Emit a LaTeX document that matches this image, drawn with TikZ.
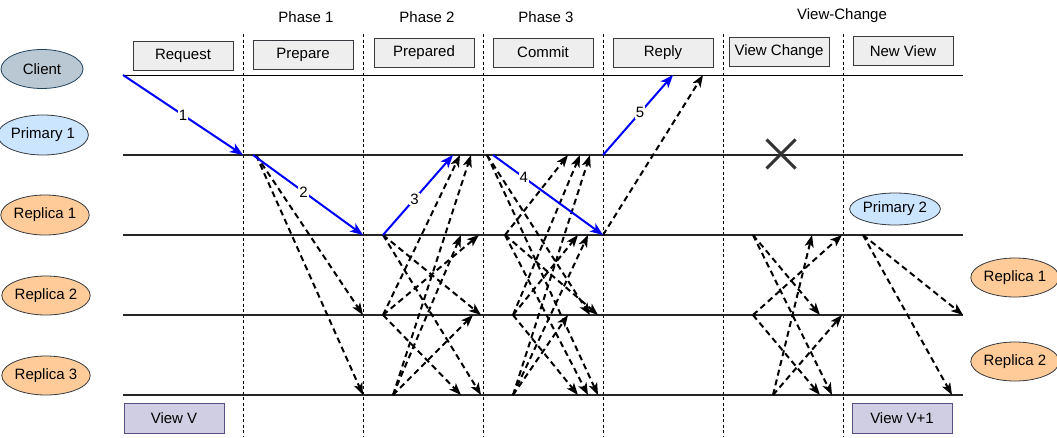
\documentclass[tikz,border=0pt]{standalone}
\usepackage{fontspec}
\setmainfont{Liberation Sans}
\usetikzlibrary{arrows.meta,shapes.geometric,shapes.misc}
\definecolor{boxfill}{HTML}{EEEEEE}
\definecolor{boxline}{HTML}{36393D}
\definecolor{clientfill}{HTML}{BAC8D3}
\definecolor{clientline}{HTML}{23445D}
\definecolor{primfill}{HTML}{CCE5FF}
\definecolor{repfill}{HTML}{FFCC99}
\definecolor{viewfill}{HTML}{D0CEE2}
\definecolor{viewline}{HTML}{56517E}
\definecolor{msgblue}{HTML}{0000FF}
\begin{document}
\begin{tikzpicture}[x=1pt,y=-1pt,
  font=\fontsize{15}{18}\selectfont,
  phasebox/.style={draw=boxline,fill=boxfill,line width=1pt,minimum width=100pt,minimum height=29pt,inner sep=0pt},
  viewbox/.style={draw=viewline,fill=viewfill,line width=1pt,minimum width=100pt,minimum height=30pt,inner sep=0pt},
  actor/.style={ellipse,draw=boxline,line width=0.8pt,minimum width=84pt,minimum height=39pt,inner sep=0pt},
  lifeline/.style={line width=2.2pt,draw=black!85},
  clientline/.style={line width=1pt,draw=black},
  divider/.style={line width=0.8pt,draw=black,dash pattern=on 3pt off 2.5pt},
  bluemsg/.style={line width=2pt,draw=msgblue,-{Stealth[length=13pt,width=10pt,inset=3.5pt]}},
  dashmsg/.style={line width=2pt,draw=black,dash pattern=on 6pt off 4pt,-{Stealth[length=12pt,width=9pt,inset=3pt]}},
  msglabel/.style={fill=white,inner sep=1pt,text=black}
]
\useasboundingbox (0,0) rectangle (1057,437);

% ---- vertical dividers
\foreach \n/\x in {d1/243,d2/363,d3/483,d4/603,d5/723,d6/843}{
  \coordinate (\n t) at (\x,34);
  \coordinate (\n b) at (\x,437);
  \draw[divider] (\n t) -- (\n b);
}

% ---- lifelines
\coordinate (Cl) at (123,75);  \coordinate (Cr) at (963,75);
\draw[clientline] (Cl) -- (Cr);
\foreach \n/\y in {P/155,R1/235,R2/315,R3/395}{
  \coordinate (\n l) at (123,\y);
  \coordinate (\n r) at (963,\y);
  \draw[lifeline] (\n l) -- (\n r);
}

% ---- phase titles
\node (ph1) at (306,17) {Phase 1};
\node (ph2) at (427,17) {Phase 2};
\node (ph3) at (546,17) {Phase 3};
\node (phvc) at (842,16) {View-Change};

% ---- phase boxes
\node[phasebox] (request)  at (183,55.5) {Request};
\node[phasebox] (prepare)  at (303,54.5) {Prepare};
\node[phasebox] (prepared) at (424,53)   {Prepared};
\node[phasebox] (commit)   at (543,52.5) {Commit};
\node[phasebox] (reply)    at (663,52.5) {Reply};
\node[phasebox] (vchange)  at (779,52)   {View Change};
\node[phasebox] (newview)  at (903,51)   {New View};

% ---- actors
\node[actor,fill=clientfill,draw=clientline,minimum width=82pt] (client) at (42,69) {Client};
\node[actor,fill=primfill,minimum height=40pt] (prim1) at (43,135) {Primary 1};
\node[actor,fill=repfill,minimum height=40pt] (rep1) at (45,215) {Replica 1};
\node[actor,fill=repfill] (rep2) at (46,295.5) {Replica 2};
\node[actor,fill=repfill] (rep3) at (46,375.5) {Replica 3};
\node[actor,fill=primfill,minimum height=32pt] (prim2) at (895,209) {Primary 2};
\node[actor,fill=repfill] (nrep1) at (1015,277.5) {Replica 1};
\node[actor,fill=repfill] (nrep2) at (1015,361.5) {Replica 2};

% ---- view boxes
\node[viewbox] (viewv)  at (174,418) {View V};
\node[viewbox] (viewv1) at (902,418) {View V+1};

% ---- failed primary
\node[cross out,draw=black!80,line width=3pt,minimum width=26pt,minimum height=26pt,inner sep=0pt] (fail) at (781,154) {};

% ---- message end points
\foreach \n/\x/\y in {
  b1s/123/75, b1e/243/155, b2s/253/155, b2e/363/235, b3s/383/235, b3e/453/155,
  b4s/493/155, b4e/603/235, b5s/603/155, b5e/673/75,
  s1P/256/155, e1R2/363/315, e1R3/363/395,
  s2R1/383/235, s2R2/383/315, s2R3/393/395,
  e2Pa/460/155, e2Pb/471/155, e2R1a/479/235, e2R1b/461/235,
  e2R2a/481/315, e2R2b/473/315, e2R3a/481/395, e2R3b/461/395,
  s3P/487/155, s3R1/505/235, s3R2/513/315, s3R3/513/395,
  e3Pa/568/155, e3Pb/580/155, e3Pc/590/155, e3R1a/578/235, e3R1b/588/235,
  e3R2a/590/315, e3R2b/598/315, e3R2c/568/315,
  e3R3a/598/395, e3R3b/588/395, e3R3c/578/395,
  s4R1/603/235, e4C/703/75,
  s5R1/753/235, s5R2/753/315, s5R3/773/395,
  e5R1a/842/235, e5R1b/812/235, e5R2a/820/315, e5R2b/842/315,
  e5R3a/832/395, e5R3b/820/395,
  s6R1/863/235, e6R2/963/315, e6R3/952/395}{
  \coordinate (\n) at (\x,\y);
}

% ---- dashed messages
\foreach \s/\t in {
  s1P/e1R2, s1P/e1R3,
  s2R1/e2R2a, s2R1/e2R3a,
  s2R2/e2Pa, s2R2/e2R1a, s2R2/e2R3b,
  s2R3/e2Pb, s2R3/e2R1b, s2R3/e2R2b,
  s3P/e3R2a, s3P/e3R3a,
  s3R1/e3Pa, s3R1/e3R2b, s3R1/e3R3b,
  s3R2/e3Pb, s3R2/e3R1a, s3R2/e3R3c,
  s3R3/e3Pc, s3R3/e3R1b, s3R3/e3R2c,
  s4R1/e4C,
  s5R1/e5R2a, s5R1/e5R3a,
  s5R2/e5R1a, s5R2/e5R3b,
  s5R3/e5R1b, s5R3/e5R2b,
  s6R1/e6R2, s6R1/e6R3}{
  \draw[dashmsg] (\s) -- (\t);
}

% ---- blue messages
\draw[bluemsg] (b1s) -- node[msglabel,pos=0.5] (l1) {1} (b1e);
\draw[bluemsg] (b2s) -- node[msglabel,pos=0.46] (l2) {2} (b2e);
\draw[bluemsg] (b3s) -- node[msglabel,pos=0.45] (l3) {3} (b3e);
\draw[bluemsg] (b4s) -- node[msglabel,pos=0.28] (l4) {4} (b4e);
\draw[bluemsg] (b5s) -- node[msglabel,pos=0.53] (l5) {5} (b5e);
\end{tikzpicture}
\end{document}
